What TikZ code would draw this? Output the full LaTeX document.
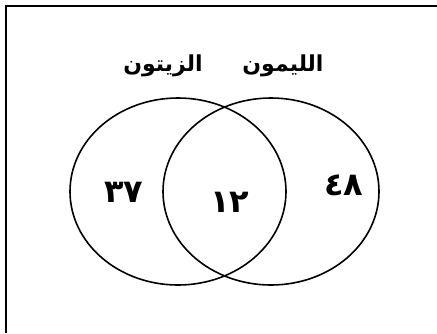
\documentclass[tikz,border=0pt]{standalone}
\usepackage{fontspec}
\usepackage{tikz}
\usetikzlibrary{positioning,shapes.geometric}
\TeXXeTstate=1
\newfontfamily\arabicfont[Script=Arabic]{DejaVu Sans}
\begin{document}
\begin{tikzpicture}[
  x=1pt, y=-1pt,
  setring/.style={ellipse, draw=black, line width=1.6pt, minimum width=216pt, minimum height=187pt, inner sep=0pt},
  setname/.style={font=\arabicfont\bfseries\fontsize{22}{25}\selectfont},
  count/.style={font=\arabicfont\bfseries\fontsize{32}{35}\selectfont},
]
% Canvas: 437 x 333, y runs down
\useasboundingbox (0,0) rectangle (437,333);
\coordinate (corner) at (5.5,5.5);
\coordinate (topend) at (437,5.5);
\coordinate (leftend) at (5.5,333);
\draw[line width=2pt] (topend) -- (corner) -- (leftend);

% The two sets
\node[setring] (olive) at (178,191.5) {};
\node[setring] (lemon) at (271,191.5) {};

% Set names
\node[setname] (olivename) at (163,66) {\beginR الزيتون\endR};
\node[setname] (lemonname) at (283,66) {\beginR الليمون\endR};

% Counts per region
\node[count] (onlyolive) at (124,192) {٣٧};
\node[count] (both) at (230,202) {١٢};
\node[count] (onlylemon) at (344,185) {٤٨};
\end{tikzpicture}
\end{document}
